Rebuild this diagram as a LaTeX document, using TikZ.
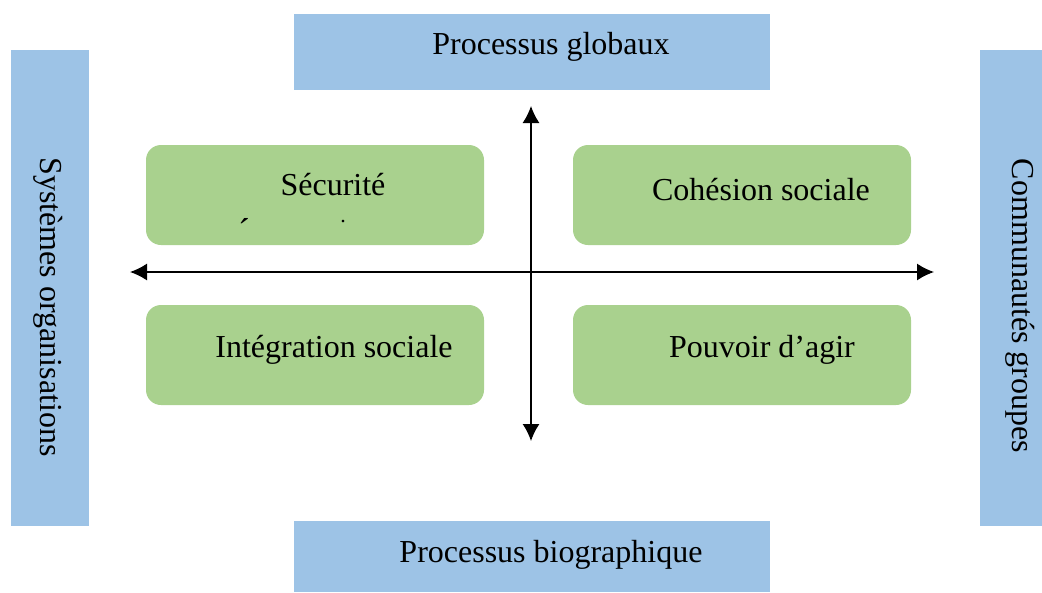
\documentclass[tikz,border=0pt]{standalone}
\usepackage{fontspec}
\setmainfont{Liberation Serif}
\usetikzlibrary{arrows.meta}
\definecolor{panelblue}{HTML}{9DC3E6}
\definecolor{panelgreen}{HTML}{A9D18E}
\tikzset{
  bluebox/.style={fill=panelblue, draw=none, inner sep=0pt},
  greenbox/.style={fill=panelgreen, draw=none, rounded corners=15pt,
    minimum width=338pt, minimum height=100pt, inner sep=0pt},
  lbl/.style={font=\fontsize{32}{38}\selectfont, inner sep=0pt},
  mark label/.style={font=\fontsize{36}{40}\selectfont, inner sep=0pt},
  dot label/.style={font=\fontsize{22}{24}\selectfont, inner sep=0pt},
  axis/.style={line width=1.4pt, {Latex[length=17pt,width=17pt]}-{Latex[length=17pt,width=17pt]}}
}
\begin{document}
\begin{tikzpicture}[x=1pt,y=-1pt]
\useasboundingbox (0,0) rectangle (1042,592);
% outer frame panels
\node[bluebox, minimum width=476pt, minimum height=76pt] (top) at (532,52) {};
\node[bluebox, minimum width=476pt, minimum height=71pt] (bottom) at (532,556.5) {};
\node[bluebox, minimum width=78pt, minimum height=476pt] (left) at (50,288) {};
\node[bluebox, minimum width=62pt, minimum height=476pt] (right) at (1011,288) {};
\node[lbl] (toplbl) at (551,47) {Processus globaux};
\node[lbl] (botlbl) at (551,555) {Processus biographique};
\node[lbl, rotate=-90] (leftlbl) at (48,307) {Systèmes organisations};
\node[lbl, rotate=-90] (rightlbl) at (1020,306) {Communautés groupes};
% quadrants
\node[greenbox] (q1) at (315,195) {};
\node[greenbox] (q2) at (742,195) {};
\node[greenbox] (q3) at (315,355) {};
\node[greenbox] (q4) at (742,355) {};
\node[lbl] (t1) at (333,185) {Sécurité};
\node[mark label] (m1) at (244,231) {´};
\node[dot label] (m2) at (343,222) {.};
\node[lbl] (t2) at (761,190) {Cohésion sociale};
\node[lbl] (t3) at (334,350) {Intégration sociale};
\node[lbl] (t4) at (762,350) {Pouvoir d’agir};
% axes
\coordinate (west) at (130,272);
\coordinate (east) at (934,272);
\coordinate (north) at (531,106);
\coordinate (south) at (531,441);
\draw[axis] (west) -- (east);
\draw[axis] (north) -- (south);
\end{tikzpicture}
\end{document}
